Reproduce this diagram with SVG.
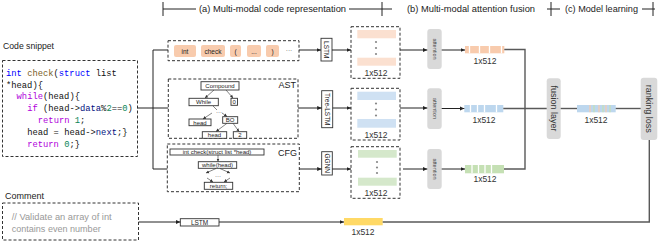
<svg xmlns="http://www.w3.org/2000/svg" width="659" height="244" viewBox="0 0 659 244">
<style>
text{font-family:"Liberation Sans",Arial,sans-serif;fill:#222}
.hdr{font-size:9.5px}
.lbl{font-size:9.5px}
.dim{font-size:8.5px;text-anchor:middle;fill:#333}
.code{font-family:"Liberation Mono","DejaVu Sans Mono",monospace;font-size:8.8px;fill:#111}
.kw{fill:#0000ff}.fn{fill:#795e26}.ct{fill:#af00db}.num{fill:#098658}.var{fill:#001080}
.dash{fill:none;stroke:#333;stroke-width:1;stroke-dasharray:3,2}
.nb{fill:#fff;stroke:#333;stroke-width:0.9}
.tiny{font-size:6px;text-anchor:middle;dominant-baseline:central}
.sm{font-size:6.5px;text-anchor:middle;dominant-baseline:central}
.rot{font-size:7px;text-anchor:middle;dominant-baseline:central}
.gray{fill:#d9d9d9;stroke:none}
.tok{fill:#f8cbad}
.ln{fill:none;stroke:#222;stroke-width:1}
.lg{fill:none;stroke:#595959;stroke-width:1.4}
.thin{fill:none;stroke:#333;stroke-width:0.6}
</style>
<defs>
<marker id="ah" markerWidth="5" markerHeight="5" refX="4.5" refY="2.5" orient="auto" markerUnits="userSpaceOnUse">
<path d="M0,0.5 L4.5,2.5 L0,4.5z" fill="#222"/>
</marker>
<marker id="as" markerWidth="4" markerHeight="4" refX="3" refY="2" orient="auto" markerUnits="userSpaceOnUse">
<path d="M0,0.5 L3,2 L0,3.5z" fill="#333"/>
</marker>
</defs>

<g id="headers">
<path class="ln" d="M163,2 V16 M163,9 H196"/>
<text class="hdr" x="199" y="12" textLength="147" lengthAdjust="spacingAndGlyphs">(a) Multi-modal code representation</text>
<path class="ln" d="M349,9 H392 M382,2 V16"/>
<text class="hdr" x="407" y="12" textLength="128" lengthAdjust="spacingAndGlyphs">(b) Multi-modal attention fusion</text>
<path class="ln" d="M547,9 H560 M551,2 V16"/>
<text class="hdr" x="565" y="12" textLength="73" lengthAdjust="spacingAndGlyphs">(c) Model learning</text>
<path class="ln" d="M642,9 H655 M653,2 V16"/>
</g>

<g id="code-snippet">
<text class="lbl" x="3" y="49" textLength="51" lengthAdjust="spacingAndGlyphs">Code snippet</text>
<rect class="dash" x="2.5" y="60.5" width="135" height="96"/>
<text class="code" x="6" y="75.7"><tspan class="kw">int</tspan> <tspan class="fn">check</tspan>(<tspan class="kw">struct</tspan> list</text>
<text class="code" x="6" y="87.5">*head){</text>
<text class="code" x="16.6" y="99.3"><tspan class="ct">while</tspan>(head){</text>
<text class="code" x="27.2" y="111.1"><tspan class="ct">if</tspan> (head-&gt;<tspan class="var">data</tspan>%<tspan class="num">2</tspan>==<tspan class="num">0</tspan>)</text>
<text class="code" x="37.8" y="122.9"><tspan class="ct">return</tspan> <tspan class="num">1</tspan>;</text>
<text class="code" x="27.2" y="134.7">head = head-&gt;<tspan class="var">next</tspan>;}</text>
<text class="code" x="27.2" y="146.5"><tspan class="ct">return</tspan> <tspan class="num">0</tspan>;}</text>
</g>

<g id="comment">
<text class="lbl" x="5" y="199" textLength="39" lengthAdjust="spacingAndGlyphs">Comment</text>
<rect class="dash" x="2.5" y="203" width="136" height="37"/>
<text x="11.7" y="220.3" style="font-size:9.5px;fill:#999" textLength="100" lengthAdjust="spacingAndGlyphs">// Validate an array of int</text>
<text x="11.7" y="232" style="font-size:9.5px;fill:#999" textLength="89" lengthAdjust="spacingAndGlyphs">contains even number</text>
</g>

<g id="tokens">
<rect class="dash" x="168" y="40.7" width="131" height="20"/>
<rect class="tok" x="174" y="45" width="22" height="12" rx="2"/>
<text class="sm" x="185" y="51">int</text>
<rect class="tok" x="201" y="45" width="24" height="12" rx="2"/>
<text class="sm" x="213" y="51">check</text>
<rect class="tok" x="230" y="45" width="11" height="12" rx="2"/>
<text class="sm" x="235.5" y="51">(</text>
<rect class="tok" x="247" y="45" width="14" height="12" rx="2"/>
<text class="sm" x="254" y="51">...</text>
<rect class="tok" x="266" y="45" width="13" height="12" rx="2"/>
<text class="sm" x="272.5" y="51">)</text>
<text class="sm" x="289" y="50" style="fill:#666">···</text>
</g>

<g id="ast">
<rect class="dash" x="168.3" y="79" width="129.7" height="59.3"/>
<text x="296" y="88" style="font-size:9px;text-anchor:end">AST</text>
<rect class="nb" x="201" y="81.7" width="38" height="8.3"/>
<text class="tiny" x="220" y="86">Compound</text>
<rect class="nb" x="189" y="98.3" width="29.3" height="7.4"/>
<text class="tiny" x="203.6" y="102.1">While</text>
<rect class="nb" x="231" y="98.3" width="6.5" height="7"/>
<text class="tiny" x="234.2" y="101.9">0</text>
<rect class="nb" x="189" y="119" width="22" height="6.7"/>
<text class="tiny" x="200" y="122.5">head</text>
<rect class="nb" x="222.7" y="116.7" width="15" height="6.6"/>
<text class="tiny" x="230.2" y="120.1">BO</text>
<rect class="nb" x="202.3" y="131.7" width="24.4" height="6.6"/>
<text class="tiny" x="214.5" y="135.1">head</text>
<rect class="nb" x="233.3" y="131.7" width="13.4" height="6.6"/>
<text class="tiny" x="240" y="135.1">2</text>
<path class="thin" marker-end="url(#as)" d="M214,90 L205,98"/>
<path class="thin" marker-end="url(#as)" d="M226,90 L233,98"/>
<path class="thin" d="M213,106 L217,110"/>
<text class="tiny" x="219" y="111.5">···</text>
<path class="thin" marker-end="url(#as)" d="M212,113 L203,119"/>
<path class="thin" marker-end="url(#as)" d="M222,113 L227,116.5"/>
<path class="thin" marker-end="url(#as)" d="M227,123.3 L216,131.5"/>
<path class="thin" marker-end="url(#as)" d="M233,123.3 L239,131.5"/>
</g>

<g id="cfg">
<rect class="dash" x="167.3" y="144" width="132" height="47.7"/>
<text x="297" y="156" style="font-size:9px;text-anchor:end">CFG</text>
<rect class="nb" x="170" y="149" width="94" height="6"/>
<text class="tiny" x="217" y="152.2">int check(struct list *head)</text>
<rect class="nb" x="198.3" y="161.7" width="38.4" height="6.6"/>
<text class="tiny" x="217.5" y="165.1">while(head)</text>
<rect class="nb" x="204.3" y="182.3" width="28.4" height="7"/>
<text class="tiny" x="218.5" y="185.9">return;</text>
<path class="thin" marker-end="url(#as)" d="M218,155 V161.5"/>
<path class="thin" marker-end="url(#as)" d="M216,168.5 L206,173"/>
<path class="thin" marker-end="url(#as)" d="M220,168.5 L230,173"/>
<text class="tiny" x="218" y="175.5">···</text>
<path class="thin" marker-end="url(#as)" d="M207,178 L213,182"/>
<path class="thin" marker-end="url(#as)" d="M230,178 L224,182"/>
</g>

<g id="encoders">
<rect class="nb" x="321" y="38.3" width="11" height="22.7"/>
<text class="rot" transform="translate(326.5,49.7) rotate(90)" style="font-size:6.5px">LSTM</text>
<rect class="nb" x="321.7" y="90.7" width="11" height="37"/>
<text class="rot" transform="translate(327.2,109.2) rotate(90)" style="font-size:6.5px">Tree-LSTM</text>
<rect class="nb" x="321.7" y="151.7" width="10.6" height="23.3"/>
<text class="rot" transform="translate(327,163.3) rotate(90)" style="font-size:6.5px">GGNN</text>
<rect class="nb" x="180.3" y="218.7" width="38.7" height="7.3"/>
<text class="tiny" x="199.6" y="222.4" style="font-size:6.5px">LSTM</text>
</g>

<g id="embeddings">
<rect class="dash" x="351" y="26.7" width="49" height="51.6"/>
<rect x="357.3" y="30" width="38.7" height="8.3" fill="#fbe0d0"/>
<rect x="357.3" y="57.7" width="38.7" height="8" fill="#fbe0d0"/>
<circle cx="376" cy="42" r="1.1" fill="#888"/><circle cx="376" cy="48" r="1.1" fill="#888"/><circle cx="376" cy="54" r="1.1" fill="#888"/>
<text class="dim" x="376" y="75.5">1x512</text>
<rect class="dash" x="351" y="88.3" width="49" height="51.7"/>
<rect x="357.3" y="91.7" width="38.7" height="8.3" fill="#cfe1f3"/>
<rect x="357.3" y="119" width="38.7" height="8.7" fill="#cfe1f3"/>
<circle cx="376" cy="103.5" r="1.1" fill="#888"/><circle cx="376" cy="109.5" r="1.1" fill="#888"/><circle cx="376" cy="115.5" r="1.1" fill="#888"/>
<text class="dim" x="376" y="137.5">1x512</text>
<rect class="dash" x="351" y="146.7" width="49" height="51.6"/>
<rect x="358" y="150" width="38.7" height="7.7" fill="#d5e8cb"/>
<rect x="358" y="177.7" width="38.7" height="8" fill="#d5e8cb"/>
<circle cx="377" cy="162" r="1.1" fill="#888"/><circle cx="377" cy="167.5" r="1.1" fill="#888"/><circle cx="377" cy="173" r="1.1" fill="#888"/>
<text class="dim" x="376" y="195.5">1x512</text>
</g>

<g id="attention">
<rect class="gray" x="427.3" y="29" width="14.4" height="40" rx="3"/>
<text class="rot" transform="translate(434.5,49) rotate(90)" style="font-size:5.5px;fill:#444">attention</text>
<rect class="gray" x="427.3" y="88.3" width="14.4" height="40.7" rx="3"/>
<text class="rot" transform="translate(434.5,108.6) rotate(90)" style="font-size:5.5px;fill:#444">attention</text>
<rect class="gray" x="427.3" y="149" width="14.4" height="40" rx="3"/>
<text class="rot" transform="translate(434.5,169) rotate(90)" style="font-size:5.5px;fill:#444">attention</text>
</g>

<g id="vectors">
<rect x="465" y="46" width="39.3" height="7.3" fill="#f8cbad"/>
<path d="M469.5,46V53.3M479.5,46V53.3M489.5,46V53.3M501.5,46V53.3" stroke="#fff" stroke-width="1.3"/>
<text class="dim" x="485" y="64.3">1x512</text>
<rect x="464.3" y="105" width="39" height="7.3" fill="#bdd7ee"/>
<path d="M470.5,105V112.3M477.5,105V112.3M484.5,105V112.3M496.5,105V112.3" stroke="#fff" stroke-width="1.3"/>
<text class="dim" x="484" y="123.3">1x512</text>
<rect x="465" y="165" width="39" height="8.3" fill="#c5e0b4"/>
<path d="M472,165V173.3M478.5,165V173.3M485,165V173.3M491.5,165V173.3" stroke="#fff" stroke-width="1.3"/>
<text class="dim" x="485" y="182.3">1x512</text>
<rect x="577" y="105" width="38.7" height="7.3" fill="#bdd7ee"/>
<path d="M590,105V112.3M599,105V112.3M606,105V112.3" stroke="#f8cbad" stroke-width="1.2"/>
<path d="M594,105V112.3M603,105V112.3M610,105V112.3" stroke="#c5e0b4" stroke-width="1.2"/>
<text class="dim" x="596" y="123.3">1x512</text>
<rect x="344" y="218" width="38.7" height="7.3" fill="#ffd966"/>
<text class="dim" x="363" y="235.3">1x512</text>
</g>

<g id="fusion-layer">
<rect class="gray" x="546.7" y="78.3" width="14" height="60.7" rx="3"/>
<text class="rot" transform="translate(553.7,108.6) rotate(90)" style="font-size:9px;fill:#333">fusion layer</text>
</g>

<g id="ranking-loss">
<rect class="gray" x="640.7" y="77.7" width="16.6" height="62.3" rx="3"/>
<text class="rot" transform="translate(649,108.8) rotate(90)" style="font-size:9px;fill:#333">ranking loss</text>
</g>

<g id="connectors">
<path class="ln" d="M137.5,108 H168.3"/>
<path class="ln" d="M168,50 H153 V169 H167.3"/>
<path class="ln" marker-end="url(#ah)" d="M299,50 H321"/>
<path class="ln" marker-end="url(#ah)" d="M298,108 H321.7"/>
<path class="ln" marker-end="url(#ah)" d="M299.3,169 H321.7"/>
<path class="ln" marker-end="url(#ah)" d="M332,50 H351"/>
<path class="ln" marker-end="url(#ah)" d="M332.7,108 H351"/>
<path class="ln" marker-end="url(#ah)" d="M332.3,169 H351"/>
<path class="ln" marker-end="url(#ah)" d="M400,50 H427.3"/>
<path class="ln" marker-end="url(#ah)" d="M400,108 H427.3"/>
<path class="ln" marker-end="url(#ah)" d="M403,169 H427.3"/>
<path class="ln" marker-end="url(#ah)" d="M441.7,50 H465"/>
<path class="ln" marker-end="url(#ah)" d="M441.7,108.5 H464.3"/>
<path class="ln" marker-end="url(#ah)" d="M441.7,169 H465"/>
<path class="lg" d="M504.3,49.5 H525 V169 H504"/>
<path class="lg" d="M503.3,108.5 H546.7"/>
<path class="lg" d="M560.7,108.5 H577"/>
<path class="lg" d="M615.7,108.5 H640.7"/>
<path class="ln" marker-end="url(#ah)" d="M138.5,222 H180.3"/>
<path class="ln" marker-end="url(#ah)" d="M219,222 H344"/>
<path class="lg" d="M382.7,222 H649.3 V140"/>
</g>
</svg>
